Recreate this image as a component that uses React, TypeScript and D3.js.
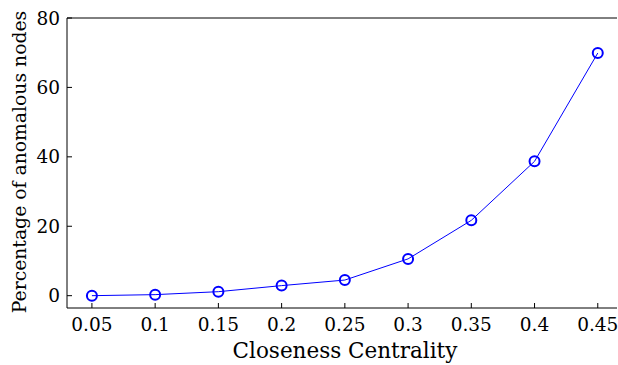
import React from "react";
import * as d3 from "d3";

const xValues = [0.05, 0.1, 0.15, 0.2, 0.25, 0.3, 0.35, 0.4, 0.45];
const yValues = [0.0, 0.3, 1.15, 2.9, 4.5, 10.6, 21.7, 38.7, 69.9];
const xTicks = [0.05, 0.1, 0.15, 0.2, 0.25, 0.3, 0.35, 0.4, 0.45];
const xTickLabels = ["0.05", "0.1", "0.15", "0.2", "0.25", "0.3", "0.35", "0.4", "0.45"];
const yTicks = [0, 20, 40, 60, 80];
const xLabel = "Closeness Centrality";
const yLabel = "Percentage of anomalous nodes";

const W = 618, H = 365;
const left = 67, right = 617, top = 18, bottom = 308;
const fontStyle = { fontFamily: "'DejaVu Serif', 'Liberation Serif', serif" };

export default function App() {
  const x = d3.scaleLinear().domain([0.0303, 0.4652]).range([left, right]);
  const y = d3.scaleLinear().domain([-3.55, 80]).range([bottom, top]);
  const line = d3.line<number>().x((_, i) => x(xValues[i])).y((d) => y(d));
  return (
    <svg width={W} height={H} style={{ position: "absolute", left: 0, top: 0, background: "#fff" }}>
      <line x1={left} x2={right} y1={top} y2={top} stroke="#000" strokeWidth={1} />
      <line x1={left} x2={left} y1={top} y2={bottom} stroke="#000" strokeWidth={1} />
      <line x1={left} x2={right} y1={bottom} y2={bottom} stroke="#000" strokeWidth={1} />
      {xTicks.map((t, i) => (
        <g key={"x" + i}>
          <line x1={x(t)} x2={x(t)} y1={bottom} y2={bottom - 5} stroke="#000" />
          <text x={x(t)} y={bottom + 23} textAnchor="middle" style={fontStyle} fontSize={18.5}>{xTickLabels[i]}</text>
        </g>
      ))}
      {yTicks.map((t, i) => (
        <g key={"y" + i}>
          <line x1={left} x2={left + 5} y1={y(t)} y2={y(t)} stroke="#000" />
          <text x={left - 7} y={y(t) + 6.5} textAnchor="end" style={fontStyle} fontSize={18.5}>{t}</text>
        </g>
      ))}
      <path d={line(yValues) || ""} fill="none" stroke="#0000ff" strokeWidth={1} />
      {yValues.map((v, i) => (
        <circle key={"c" + i} cx={x(xValues[i])} cy={y(v)} r={5} fill="none" stroke="#0000ff" strokeWidth={2} />
      ))}
      <text x={345} y={358} textAnchor="middle" style={fontStyle} fontSize={21.5}>{xLabel}</text>
      <text transform={`translate(26, 162) rotate(-90)`} textAnchor="middle" style={fontStyle} fontSize={18.8}>{yLabel}</text>
    </svg>
  );
}
